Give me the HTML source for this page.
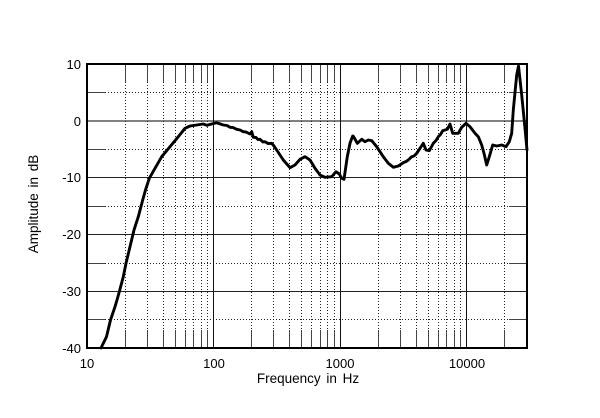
<!DOCTYPE html>
<html>
<head>
<meta charset="utf-8">
<style>
html,body{margin:0;padding:0;background:#fff;}
svg{display:block;}
text{font-family:"Liberation Sans",Arial,sans-serif;fill:#000;}
</style>
</head>
<body>
<svg width="600" height="418" viewBox="0 0 600 418" xmlns="http://www.w3.org/2000/svg">
<rect x="0" y="0" width="600" height="418" fill="#fff"/>
<!-- horizontal dotted grid -->
<g stroke="#222" stroke-width="1" stroke-dasharray="1 2" fill="none">
  <line x1="105" y1="92.5" x2="509" y2="92.5"/>
  <line x1="105" y1="149.5" x2="509" y2="149.5"/>
  <line x1="105" y1="206.5" x2="509" y2="206.5"/>
  <line x1="105" y1="263.5" x2="509" y2="263.5"/>
  <line x1="105" y1="319.5" x2="509" y2="319.5"/>
</g>
<g stroke="#444" stroke-width="1" fill="none">
  <line x1="87" y1="92.5" x2="105" y2="92.5"/><line x1="509" y1="92.5" x2="527" y2="92.5"/>
  <line x1="87" y1="149.5" x2="105" y2="149.5"/><line x1="509" y1="149.5" x2="527" y2="149.5"/>
  <line x1="87" y1="206.5" x2="105" y2="206.5"/><line x1="509" y1="206.5" x2="527" y2="206.5"/>
  <line x1="87" y1="263.5" x2="105" y2="263.5"/><line x1="509" y1="263.5" x2="527" y2="263.5"/>
  <line x1="87" y1="319.5" x2="105" y2="319.5"/><line x1="509" y1="319.5" x2="527" y2="319.5"/>
</g>
<!-- horizontal solid grid -->
<line x1="87" y1="121" x2="527" y2="121" stroke="#808080" stroke-width="2"/>
<g stroke="#222" stroke-width="1">
  <line x1="87" y1="177.5" x2="527" y2="177.5"/>
  <line x1="87" y1="234.5" x2="527" y2="234.5"/>
  <line x1="87" y1="291.5" x2="527" y2="291.5"/>
</g>
<!-- vertical minor dotted -->
<g stroke="#222" stroke-width="1" stroke-dasharray="1 2" fill="none">
  <line x1="125.5" y1="82" x2="125.5" y2="330"/>
  <line x1="147.5" y1="82" x2="147.5" y2="330"/>
  <line x1="163.5" y1="82" x2="163.5" y2="330"/>
  <line x1="175.5" y1="82" x2="175.5" y2="330"/>
  <line x1="185.5" y1="82" x2="185.5" y2="330"/>
  <line x1="193.5" y1="82" x2="193.5" y2="330"/>
  <line x1="201.5" y1="82" x2="201.5" y2="330"/>
  <line x1="207.5" y1="82" x2="207.5" y2="330"/>
  <line x1="251.5" y1="82" x2="251.5" y2="330"/>
  <line x1="273.5" y1="82" x2="273.5" y2="330"/>
  <line x1="289.5" y1="82" x2="289.5" y2="330"/>
  <line x1="301.5" y1="82" x2="301.5" y2="330"/>
  <line x1="311.5" y1="82" x2="311.5" y2="330"/>
  <line x1="320.5" y1="82" x2="320.5" y2="330"/>
  <line x1="327.5" y1="82" x2="327.5" y2="330"/>
  <line x1="334.5" y1="82" x2="334.5" y2="330"/>
  <line x1="378.5" y1="82" x2="378.5" y2="330"/>
  <line x1="400.5" y1="82" x2="400.5" y2="330"/>
  <line x1="416.5" y1="82" x2="416.5" y2="330"/>
  <line x1="428.5" y1="82" x2="428.5" y2="330"/>
  <line x1="438.5" y1="82" x2="438.5" y2="330"/>
  <line x1="446.5" y1="82" x2="446.5" y2="330"/>
  <line x1="454.5" y1="82" x2="454.5" y2="330"/>
  <line x1="460.5" y1="82" x2="460.5" y2="330"/>
  <line x1="504.5" y1="82" x2="504.5" y2="330"/>
</g>
<!-- vertical minor ticks top & bottom -->
<g stroke="#444" stroke-width="1" fill="none">
  <path d="M125.5 64V82M147.5 64V82M163.5 64V82M175.5 64V82M185.5 64V82M193.5 64V82M201.5 64V82M207.5 64V82
           M251.5 64V82M273.5 64V82M289.5 64V82M301.5 64V82M311.5 64V82M320.5 64V82M327.5 64V82M334.5 64V82
           M378.5 64V82M400.5 64V82M416.5 64V82M428.5 64V82M438.5 64V82M446.5 64V82M454.5 64V82M460.5 64V82M504.5 64V82
           M125.5 330V348M147.5 330V348M163.5 330V348M175.5 330V348M185.5 330V348M193.5 330V348M201.5 330V348M207.5 330V348
           M251.5 330V348M273.5 330V348M289.5 330V348M301.5 330V348M311.5 330V348M320.5 330V348M327.5 330V348M334.5 330V348
           M378.5 330V348M400.5 330V348M416.5 330V348M428.5 330V348M438.5 330V348M446.5 330V348M454.5 330V348M460.5 330V348M504.5 330V348"/>
</g>
<!-- decade lines -->
<g stroke="#111" stroke-width="1">
  <line x1="213.5" y1="64" x2="213.5" y2="348"/>
  <line x1="340.5" y1="64" x2="340.5" y2="348"/>
  <line x1="466.5" y1="64" x2="466.5" y2="348"/>
</g>
<!-- frame -->
<rect x="87" y="64" width="440" height="284" fill="none" stroke="#000" stroke-width="2"/>
<!-- curve -->
<polyline fill="none" stroke="#000" stroke-width="2.9" stroke-linejoin="round" stroke-linecap="round"
points="101,348 106.5,336.7 110.5,320 115,306.7 117,300 119.3,291.7 123.3,276.7 126,263.3 130,246.7 134,230 138.3,216.7 142.7,200 145.5,190 149.3,178.3 155,168.3 161.7,156.7 170,146.7 178.3,136.7 185,128.3 190,126 196.7,125 200,124.5 203.3,124 206.7,125.3 211.7,124 216.7,122.7 223.3,125 227,125.5 230,127.3 233,127.5 236.7,129.3 240,130 243.3,131.7 246,132 250,134 251.7,131.7 253.3,137.3 256,137.5 258,139.5 260,139.3 263,142 265,141.7 268,143.5 271.7,143.3 274,146 276.7,150 283.3,160 290,167.7 295,165 300,159.3 305,156.7 310,160 315,168.3 320,175 325,177.3 331.7,176.7 336,171.7 339.3,174 341.7,178.3 344,179.3 347.3,156.7 350,143.3 352.7,136 353.5,136.5 357.3,143.3 361.7,139.3 365,141.7 368.3,140 371.7,140.7 376.7,146.7 383.3,156.7 388.3,163.3 393.3,167.3 398.3,166 403.3,162.7 406,161.5 408.3,160 411.7,156.7 414,156 416.7,153.3 420.7,147.3 423.3,143.3 426,150 429.3,150.7 433.3,143.3 436,140.5 438.3,136.7 440.5,134.5 442.7,130.7 447.3,129.3 450,124 452.7,133.3 458.3,133.3 461.7,127.3 466,123.3 470,126.7 475,133.3 478.3,136.7 481.7,145 484,153.3 486.7,165 489.3,156.7 492.7,145 496.7,146 501.7,145 506,146.7 509.3,141.7 511.7,133.3 513.3,110 516.7,75 518.5,66 521.7,95 525,128.3 527,150"/>
<!-- y tick labels -->
<g font-size="13" text-anchor="end">
  <text x="81" y="69">10</text>
  <text x="81" y="126">0</text>
  <text x="81" y="182">-10</text>
  <text x="81" y="239">-20</text>
  <text x="81" y="296">-30</text>
  <text x="81" y="353">-40</text>
</g>
<!-- x tick labels -->
<g font-size="13" text-anchor="middle">
  <text x="87" y="368">10</text>
  <text x="214" y="368">100</text>
  <text x="340" y="368">1000</text>
  <text x="467" y="368">10000</text>
</g>
<text x="308" y="383" font-size="13.5" text-anchor="middle" word-spacing="2">Frequency in Hz</text>
<text transform="translate(38,204) rotate(-90)" font-size="13.5" text-anchor="middle" word-spacing="2">Amplitude in dB</text>
</svg>
</body>
</html>
